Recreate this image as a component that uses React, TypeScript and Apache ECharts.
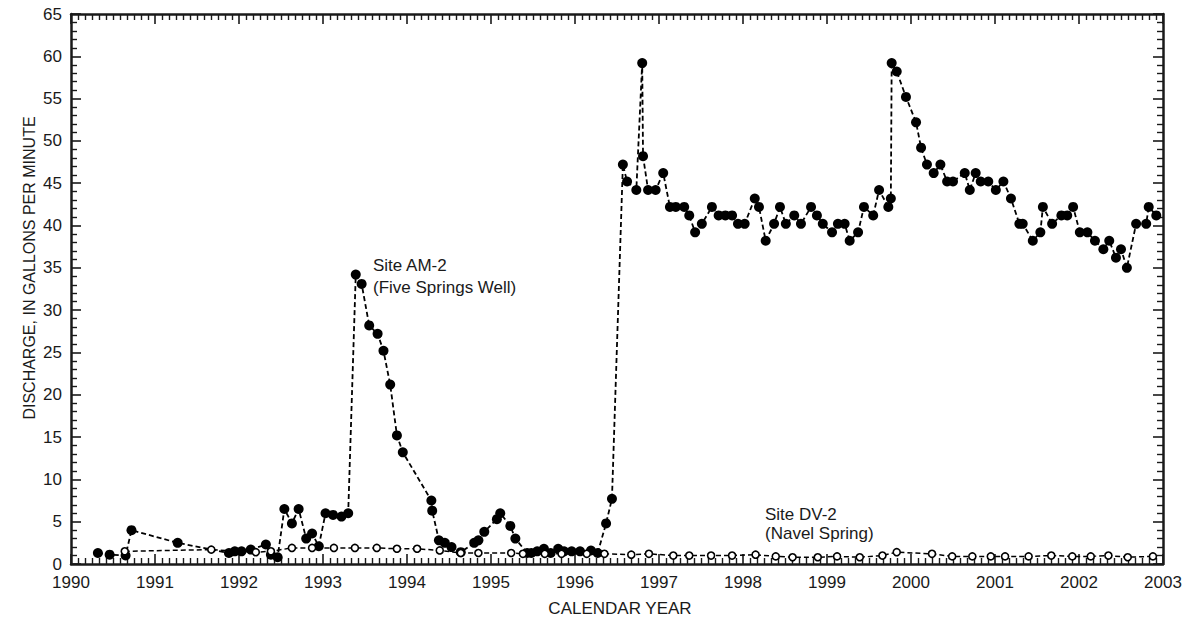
import React, { useEffect, useRef } from "react";
import * as echarts from "echarts";

// Site AM-2 (Five Springs Well) — decimal calendar year and discharge (gal/min)
const amYears = [
  1990.32, 1990.46, 1990.65, 1990.72, 1991.27, 1991.88, 1991.95, 1992.03, 1992.14, 1992.32,
  1992.38, 1992.46, 1992.54, 1992.63, 1992.71, 1992.8, 1992.87, 1992.95, 1993.03, 1993.12,
  1993.22, 1993.3, 1993.39, 1993.46, 1993.55, 1993.65, 1993.72, 1993.8, 1993.88, 1993.95,
  1994.29, 1994.3, 1994.38, 1994.45, 1994.53, 1994.64, 1994.8, 1994.85, 1994.92, 1995.07,
  1995.11, 1995.23, 1995.29, 1995.43, 1995.48, 1995.55, 1995.63, 1995.71, 1995.8, 1995.87,
  1995.96, 1996.06, 1996.19, 1996.27, 1996.37, 1996.44, 1996.57, 1996.62, 1996.73, 1996.8,
  1996.81, 1996.87, 1996.96, 1997.05, 1997.13, 1997.2, 1997.3, 1997.36, 1997.43, 1997.51,
  1997.63, 1997.71, 1997.79, 1997.87, 1997.94, 1998.02, 1998.14, 1998.19, 1998.27, 1998.37,
  1998.44, 1998.51, 1998.61, 1998.69, 1998.81, 1998.88, 1998.95, 1999.06, 1999.13, 1999.21,
  1999.27, 1999.37, 1999.44, 1999.55, 1999.62, 1999.73, 1999.76, 1999.77, 1999.83, 1999.94,
  2000.06, 2000.12, 2000.19, 2000.27, 2000.35, 2000.43, 2000.5, 2000.64, 2000.7, 2000.77,
  2000.83, 2000.92, 2001.01, 2001.1, 2001.19, 2001.29, 2001.33, 2001.45, 2001.54, 2001.57,
  2001.68, 2001.79, 2001.86, 2001.93, 2002.01, 2002.1, 2002.19, 2002.29, 2002.36, 2002.44,
  2002.5, 2002.57, 2002.68, 2002.8, 2002.83, 2002.92,
];
const amValues = [
  1.3, 1.1, 1.0, 4.0, 2.5, 1.3, 1.5, 1.5, 1.7, 2.3,
  1.1, 0.8, 6.5, 4.8, 6.5, 3.0, 3.6, 2.1, 6.0, 5.8,
  5.6, 6.0, 34.2, 33.1, 28.2, 27.2, 25.2, 21.2, 15.2, 13.2,
  7.5, 6.3, 2.8, 2.5, 2.0, 1.4, 2.5, 2.8, 3.8, 5.3,
  6.0, 4.5, 3.0, 1.3, 1.3, 1.5, 1.8, 1.3, 1.8, 1.5,
  1.5, 1.5, 1.6, 1.3, 4.8, 7.7, 47.2, 45.2, 44.2, 59.2,
  48.2, 44.2, 44.2, 46.2, 42.2, 42.2, 42.2, 41.2, 39.2, 40.2,
  42.2, 41.2, 41.2, 41.2, 40.2, 40.2, 43.2, 42.2, 38.2, 40.2,
  42.2, 40.2, 41.2, 40.2, 42.2, 41.2, 40.2, 39.2, 40.2, 40.2,
  38.2, 39.2, 42.2, 41.2, 44.2, 42.2, 43.2, 59.2, 58.2, 55.2,
  52.2, 49.2, 47.2, 46.2, 47.2, 45.2, 45.2, 46.2, 44.2, 46.2,
  45.2, 45.2, 44.2, 45.2, 43.2, 40.2, 40.2, 38.2, 39.2, 42.2,
  40.2, 41.2, 41.2, 42.2, 39.2, 39.2, 38.2, 37.2, 38.2, 36.2,
  37.2, 35.0, 40.2, 40.2, 42.2, 41.2,
];

// Site DV-2 (Navel Spring)
const dvYears = [
  1990.64, 1991.67, 1992.2, 1992.38, 1992.63, 1992.87, 1993.13, 1993.38, 1993.64, 1993.88,
  1994.12, 1994.39, 1994.64, 1994.85, 1995.24, 1995.38, 1995.64, 1995.84, 1996.14, 1996.35,
  1996.67, 1996.88, 1997.17, 1997.36, 1997.62, 1997.87, 1998.15, 1998.39, 1998.59, 1998.89,
  1999.12, 1999.39, 1999.66, 1999.83, 2000.25, 2000.49, 2000.73, 2000.95, 2001.12, 2001.4,
  2001.67, 2001.92, 2002.14, 2002.35, 2002.58, 2002.88,
];
const dvValues = [
  1.5, 1.7, 1.4, 1.5, 1.9, 1.9, 1.9, 1.9, 1.9, 1.8,
  1.8, 1.6, 1.3, 1.3, 1.3, 1.2, 1.2, 1.2, 1.2, 1.2,
  1.1, 1.2, 1.0, 1.0, 1.0, 1.0, 1.1, 0.9, 0.8, 0.8,
  0.9, 0.8, 1.0, 1.4, 1.2, 0.9, 0.9, 0.9, 0.9, 0.9,
  1.0, 0.9, 0.9, 1.0, 0.8, 0.9,
];

const xMin = 1990;
const xMax = 2003;
const yMin = 0;
const yMax = 65;

const FONT = "'Liberation Sans', Arial, Helvetica, sans-serif";
const INK = "#1a1a1a";

export default function App() {
  const ref = useRef<HTMLDivElement>(null);

  useEffect(() => {
    if (!ref.current) return;
    const chart = echarts.init(ref.current, null, { renderer: "svg" });

    const axisLine = { show: true, onZero: false, lineStyle: { color: INK, width: 2.5 } };
    const tick = { show: true, inside: true, length: 10, lineStyle: { color: INK, width: 1.6 } };

    const xCommon = {
      type: "value" as const,
      min: xMin,
      max: xMax,
      interval: 1,
      axisLine,
      axisTick: tick,
      minorTick: { show: true, splitNumber: 12, length: 6, lineStyle: { color: INK, width: 1.4 } },
      splitLine: { show: false },
      minorSplitLine: { show: false },
    };
    const yCommon = {
      type: "value" as const,
      min: yMin,
      max: yMax,
      interval: 5,
      axisLine,
      axisTick: tick,
      minorTick: { show: true, splitNumber: 5, length: 6, lineStyle: { color: INK, width: 1.4 } },
      splitLine: { show: false },
      minorSplitLine: { show: false },
    };

    const amData = amYears.map((x, i) => [x, amValues[i]]);
    const dvData = dvYears.map((x, i) => [x, dvValues[i]]);

    chart.setOption({
      animation: false,
      backgroundColor: "#ffffff",
      grid: { left: 71, right: 25, top: 14, bottom: 55, containLabel: false },
      xAxis: [
        {
          ...xCommon,
          position: "bottom",
          axisLabel: {
            show: true,
            margin: 10,
            fontSize: 17,
            fontFamily: FONT,
            color: INK,
            formatter: (v: number) => String(Math.round(v)),
          },
        },
        { ...xCommon, position: "top", axisLabel: { show: false } },
      ],
      yAxis: [
        {
          ...yCommon,
          position: "left",
          axisLabel: { show: true, margin: 9, fontSize: 17, fontFamily: FONT, color: INK },
        },
        { ...yCommon, position: "right", axisLabel: { show: false } },
      ],
      series: [
        {
          name: "Site AM-2",
          type: "line",
          data: amData,
          symbol: "circle",
          symbolSize: 10,
          showSymbol: true,
          itemStyle: { color: "#000000", borderWidth: 0 },
          lineStyle: { color: "#000000", width: 1.8, type: [5, 3] },
          z: 3,
        },
        {
          name: "Site DV-2",
          type: "line",
          data: dvData,
          symbol: "circle",
          symbolSize: 7,
          showSymbol: true,
          itemStyle: { color: "#ffffff", borderColor: "#000000", borderWidth: 1.6 },
          lineStyle: { color: "#000000", width: 1.5, type: [5, 3] },
          z: 4,
        },
      ],
      graphic: [
        {
          type: "text",
          x: 373,
          y: 265,
          style: { text: "Site AM-2", font: `17px ${FONT}`, fill: INK, textAlign: "left", textVerticalAlign: "middle" },
        },
        {
          type: "text",
          x: 373,
          y: 287,
          style: { text: "(Five Springs Well)", font: `17px ${FONT}`, fill: INK, textAlign: "left", textVerticalAlign: "middle" },
        },
        {
          type: "text",
          x: 765,
          y: 514,
          style: { text: "Site DV-2", font: `17px ${FONT}`, fill: INK, textAlign: "left", textVerticalAlign: "middle" },
        },
        {
          type: "text",
          x: 765,
          y: 533,
          style: { text: "(Navel Spring)", font: `17px ${FONT}`, fill: INK, textAlign: "left", textVerticalAlign: "middle" },
        },
        {
          type: "text",
          x: 620,
          y: 608,
          style: { text: "CALENDAR YEAR", font: `17px ${FONT}`, fill: INK, textAlign: "center", textVerticalAlign: "middle" },
        },
        {
          type: "text",
          x: 29,
          y: 268,
          rotation: Math.PI / 2,
          style: {
            text: "DISCHARGE, IN GALLONS PER MINUTE",
            font: `16px ${FONT}`,
            fill: INK,
            textAlign: "center",
            textVerticalAlign: "middle",
          },
        },
      ],
    });

    return () => chart.dispose();
  }, []);

  return (
    <div
      ref={ref}
      style={{ position: "fixed", left: 0, top: 0, width: 1188, height: 619, background: "#fff" }}
    />
  );
}
